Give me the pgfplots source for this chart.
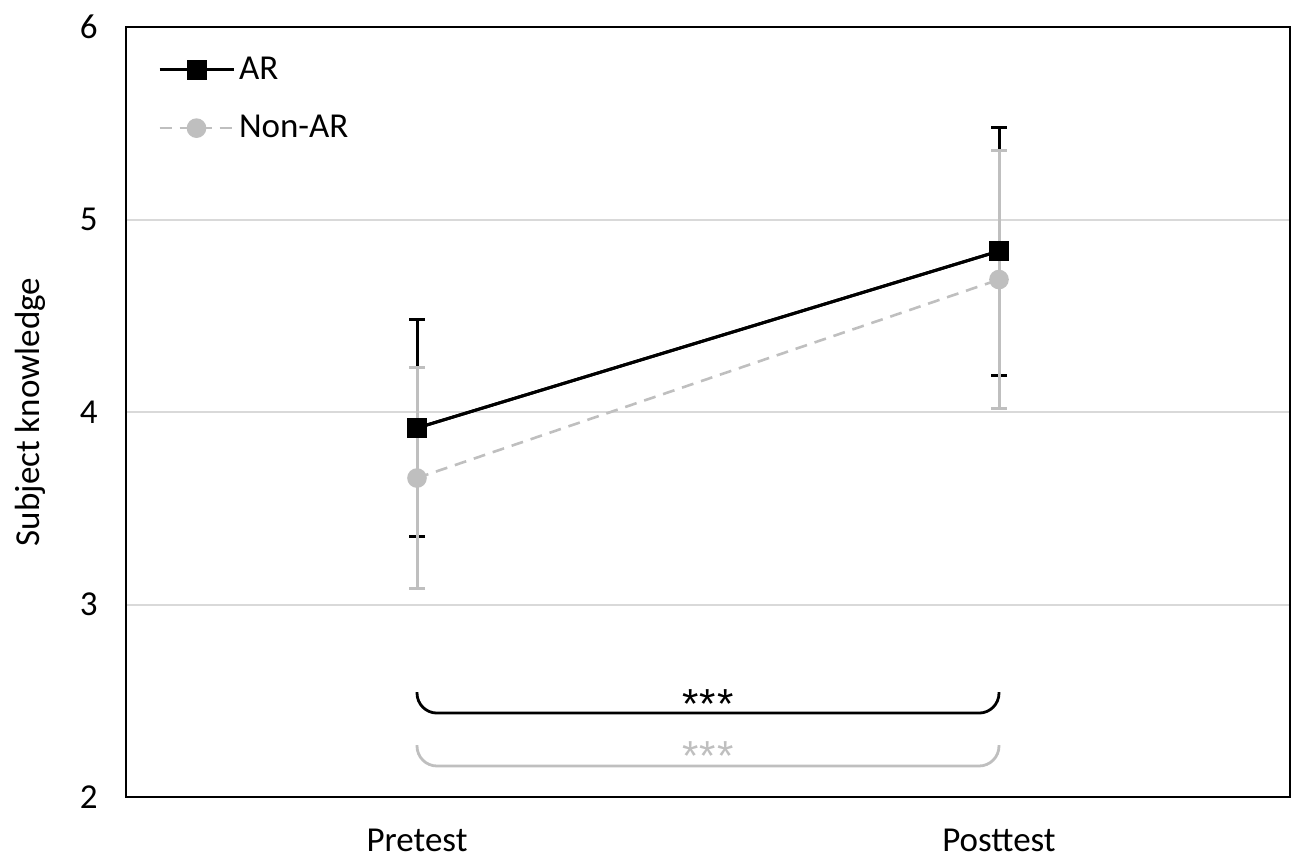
\documentclass[border=0pt]{standalone}
\usepackage{fontspec}
\setmainfont{Carlito}
\newfontfamily\starfont{Liberation Sans}
\usepackage{pgfplots}
\pgfplotsset{compat=1.18}
\definecolor{ltgray}{RGB}{191,191,191}
\definecolor{gridgray}{RGB}{217,217,217}
\begin{document}
\begin{tikzpicture}
\useasboundingbox (-63pt,-30.5pt) rectangle (585pt,398.5pt);
\begin{axis}[
  at={(0,0)}, anchor=south west,
  scale only axis, width=582pt, height=385pt,
  xmin=-0.5, xmax=1.5, ymin=2, ymax=6,
  xtick={0,1}, xticklabels={Pretest,Posttest},
  ytick={2,3,4,5,6},
  major tick length=0pt,
  ymajorgrids, grid style={gridgray, line width=1pt},
  axis line style={black, line width=1.4pt},
  font=\fontsize{17.5}{21}\selectfont,
  ticklabel style={font=\fontsize{17.5}{21}\selectfont},
  /pgf/number format/assume math mode=true,
  yticklabel style={xshift=-10.7pt},
  xticklabel style={yshift=-12.5pt},
  ylabel={Subject knowledge},
  ylabel style={at={(axis description cs:-0.0825,0.5)}, anchor=center, font=\fontsize{17.5}{21}\selectfont},
  legend style={at={(axis description cs:0.022,0.972)}, anchor=north west, draw=none, fill=none,
    font=\fontsize{17.5}{21}\selectfont, row sep=12.5pt},
  legend cell align=left,
  legend image code/.code={\draw[mark repeat=2,mark phase=2,#1] plot coordinates {(0pt,0pt)(18.5pt,0pt)(37pt,0pt)};},
]
% AR with error bars
\addplot[black, line width=1.5pt, mark=square*, mark size=4.25pt, mark options={solid},
  error bars/.cd, y dir=both, y explicit,
  error bar style={black, line width=1.5pt},
  error mark options={black, rotate=90, mark size=4pt, line width=1.5pt}]
  coordinates {(0,3.917) +- (0,0.566) (1,4.836) +- (0,0.644)};
\addlegendentry{AR}
% Non-AR with error bars
\addplot[ltgray, line width=1.3pt, dash pattern=on 6pt off 4pt, mark=*, mark size=4.25pt, mark options={solid, fill=ltgray, draw=ltgray},
  error bars/.cd, y dir=both, y explicit,
  error bar style={ltgray, line width=1.5pt, solid},
  error mark options={ltgray, rotate=90, mark size=4pt, line width=1.5pt, solid}]
  coordinates {(0,3.657) +- (0,0.576) (1,4.688) +- (0,0.668)};
\addlegendentry{Non-AR}
% AR redrawn on top
\addplot[black, line width=1.5pt, mark=square*, mark size=4.25pt, mark options={solid}, forget plot]
  coordinates {(0,3.917) (1,4.836)};
% brackets
\draw[black, line width=1.4pt, rounded corners=10pt] (axis cs:0,2.545) -- (axis cs:0,2.436) -- (axis cs:1,2.436) -- (axis cs:1,2.545);
\node[black, font=\starfont\fontsize{21}{24}\selectfont, inner sep=0pt] at (axis cs:0.5,2.485) {*\kern0.5pt*\kern0.5pt*};
\draw[ltgray, line width=1.4pt, rounded corners=10pt] (axis cs:0,2.27) -- (axis cs:0,2.161) -- (axis cs:1,2.161) -- (axis cs:1,2.27);
\node[ltgray, font=\starfont\fontsize{21}{24}\selectfont, inner sep=0pt] at (axis cs:0.5,2.215) {*\kern0.5pt*\kern0.5pt*};
\end{axis}
\end{tikzpicture}
\end{document}
